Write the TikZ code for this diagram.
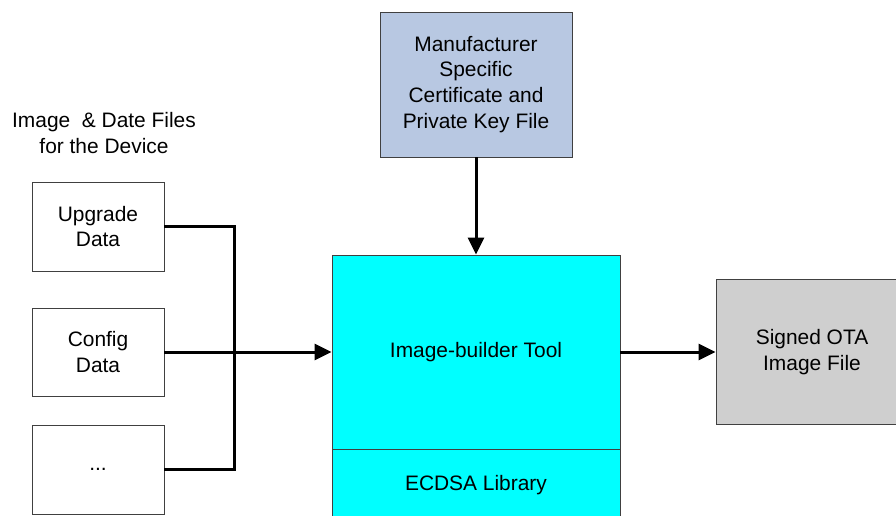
\documentclass[tikz,border=0pt]{standalone}
\usepackage{fontspec}
\setmainfont{Liberation Sans}
\usetikzlibrary{arrows.meta}
\definecolor{keyblue}{HTML}{B8C8E2}
\definecolor{toolcyan}{HTML}{00FFFF}
\definecolor{outgrey}{HTML}{CFCFCF}
\definecolor{bordergrey}{HTML}{404040}
\tikzset{
  box/.style={draw=bordergrey, line width=0.9bp, align=center, inner sep=0pt,
    font=\fontsize{21}{26}\selectfont},
  conn/.style={draw=black, line width=3bp},
  arr/.style={draw=black, line width=3bp, -{Triangle[length=17bp,width=16bp]}}
}
\begin{document}
\begin{tikzpicture}[x=1bp,y=-1bp]
\useasboundingbox (0,0) rectangle (896,516);
\clip (0,0) rectangle (896,516);
\node[font=\fontsize{21}{26}\selectfont, align=center] (title) at (104,133) {Image\ \ \& Date Files\\for the Device};
\node[box, fill=keyblue, minimum width=192bp, minimum height=145bp] (key) at (476,84.5) {Manufacturer\\Specific\\Certificate and\\Private Key File};
\node[box, fill=toolcyan, minimum width=288bp, minimum height=194bp] (tool) at (476,352) {Image-builder Tool};
\node[box, fill=toolcyan, minimum width=288bp, minimum height=72bp] (lib) at (476,485) {ECDSA Library};
\node[box, fill=outgrey, minimum width=192bp, minimum height=145bp] (out) at (812,352) {Signed OTA\\Image File};
\node[box, fill=white, minimum width=132bp, minimum height=89bp] (upg) at (98,226.5) {Upgrade\\Data};
\node[box, fill=white, minimum width=132bp, minimum height=88bp] (cfg) at (98,352) {Config\\Data};
\node[box, fill=white, minimum width=132bp, minimum height=89bp] (dots) at (98,469.5) {...};
\coordinate (bus) at (234,352);
\draw[conn] (upg.east) -| (bus) |- (dots.east);
\draw[arr] (cfg.east) -- (tool.west);
\draw[arr] (key.south) -- (tool.north);
\draw[arr] (tool.east) -- (out.west);
\end{tikzpicture}
\end{document}
